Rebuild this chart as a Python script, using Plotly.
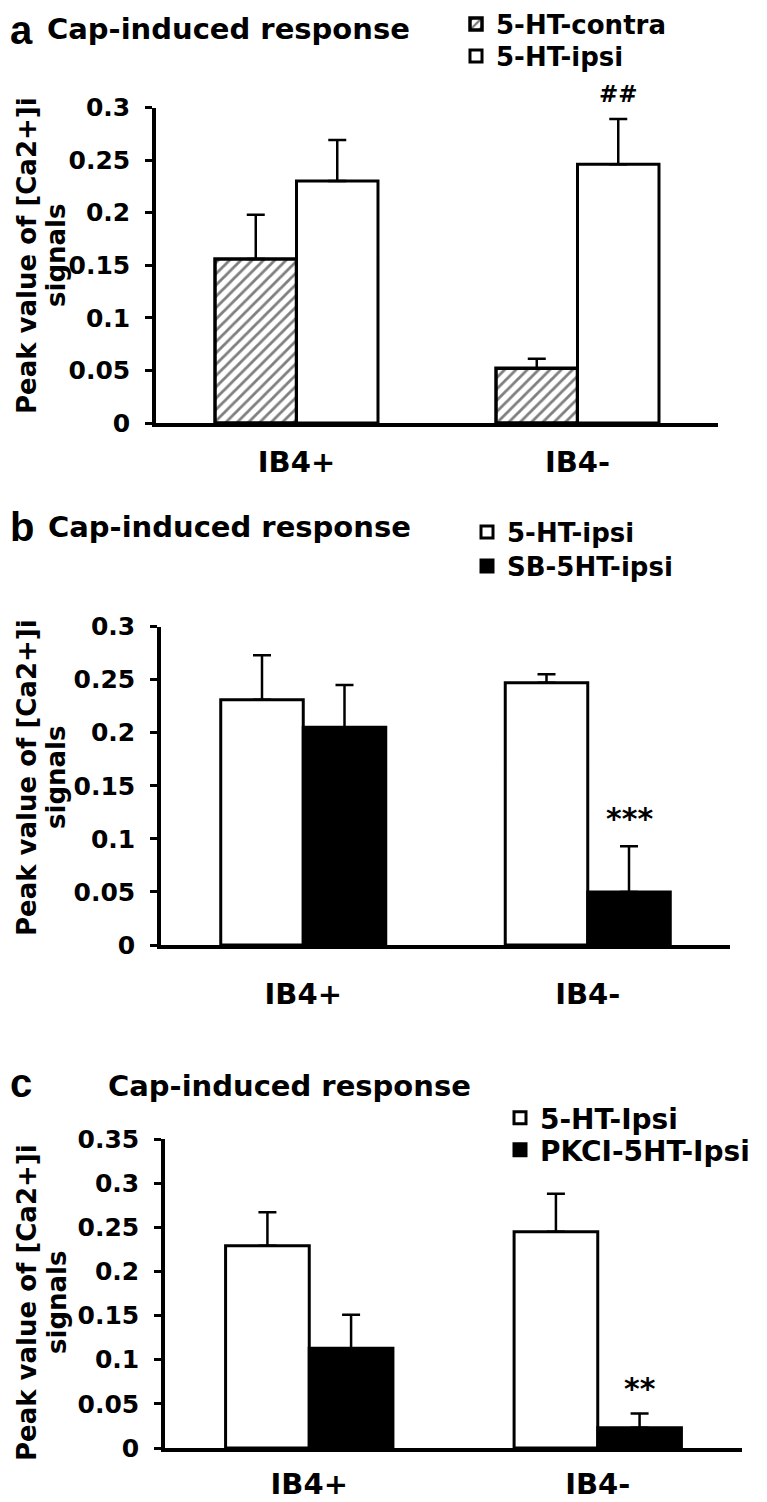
import plotly.graph_objects as go

# The page body adds an 8px margin, so the figure is shifted by OFF and shrunk to fit.
OFF = 8
W, H = 767 - OFF, 1502 - OFF

categories = ["IB4+", "IB4-"]

# Panel a: Cap-induced response, 5-HT-contra vs 5-HT-ipsi
a_contra = [0.156, 0.052]
a_contra_err = [0.042, 0.009]
a_ipsi = [0.230, 0.246]
a_ipsi_err = [0.039, 0.043]

# Panel b: 5-HT-ipsi vs SB-5HT-ipsi
b_ipsi = [0.231, 0.247]
b_ipsi_err = [0.042, 0.008]
b_sb = [0.205, 0.050]
b_sb_err = [0.040, 0.043]

# Panel c: 5-HT-Ipsi vs PKCI-5HT-Ipsi
c_ipsi = [0.229, 0.245]
c_ipsi_err = [0.038, 0.043]
c_pkci = [0.113, 0.023]
c_pkci_err = [0.038, 0.016]

yticks_ab = [0, 0.05, 0.1, 0.15, 0.2, 0.25, 0.3]
yticks_c = [0, 0.05, 0.1, 0.15, 0.2, 0.25, 0.3, 0.35]

FONT = "DejaVu Sans"
BARGAP = 0.42

# plot areas in reference pixels: (left, right, top, bottom)
PA = (156, 718, 107.5, 423)
PB = (161, 730, 626.5, 945)
PC = (165, 742, 1139, 1448)


def px(x):
    return (x - OFF) / W


def py(y):
    return 1 - (y - OFF) / H


def xdom(p):
    return [px(p[0]), px(p[1])]


def ydom(p):
    return [py(p[3]), py(p[2])]


def err(arr):
    return dict(type="data", array=arr, arrayminus=[0] * len(arr), symmetric=False,
                color="black", thickness=2.5, width=9)


fig = go.Figure()

white = dict(color="white", line=dict(color="black", width=3))
black = dict(color="black", line=dict(color="black", width=3))
hatch = dict(color="white", line=dict(color="black", width=3.5),
             pattern=dict(shape="/", fgcolor="black", bgcolor="white", size=8, solidity=0.35))

# Panel a
fig.add_trace(go.Bar(x=categories, y=a_contra, error_y=err(a_contra_err), marker=hatch,
                     name="5-HT-contra", xaxis="x", yaxis="y", legend="legend"))
fig.add_trace(go.Bar(x=categories, y=a_ipsi, error_y=err(a_ipsi_err), marker=white,
                     name="5-HT-ipsi", xaxis="x", yaxis="y", legend="legend2"))
# Panel b
fig.add_trace(go.Bar(x=categories, y=b_ipsi, error_y=err(b_ipsi_err), marker=white,
                     name="5-HT-ipsi", xaxis="x2", yaxis="y2", legend="legend3"))
fig.add_trace(go.Bar(x=categories, y=b_sb, error_y=err(b_sb_err), marker=black,
                     name="SB-5HT-ipsi", xaxis="x2", yaxis="y2", legend="legend4"))
# Panel c
fig.add_trace(go.Bar(x=categories, y=c_ipsi, error_y=err(c_ipsi_err), marker=white,
                     name="5-HT-Ipsi", xaxis="x3", yaxis="y3", legend="legend5"))
fig.add_trace(go.Bar(x=categories, y=c_pkci, error_y=err(c_pkci_err), marker=black,
                     name="PKCI-5HT-Ipsi", xaxis="x3", yaxis="y3", legend="legend6"))


def xaxis(p, anchor, standoff):
    return dict(domain=xdom(p), anchor=anchor, showline=True, linecolor="black", linewidth=3.5,
                ticks="", showgrid=False, zeroline=False,
                tickfont=dict(family=FONT, size=29, color="black", weight="bold"),
                ticklabelstandoff=standoff)


def yaxis(p, anchor, ticks, rng):
    return dict(domain=ydom(p), anchor=anchor, range=rng, tickvals=ticks,
                showline=True, linecolor="black", linewidth=3.5,
                ticks="outside", ticklen=7, tickwidth=3, tickcolor="black",
                showgrid=False, zeroline=False,
                tickfont=dict(family=FONT, size=25, color="black", weight="bold"),
                ticklabelstandoff=10)


def legend(xpx, ypx, size):
    return dict(x=px(xpx - 40), xanchor="left", y=py(ypx), yanchor="middle",
                font=dict(family=FONT, size=size, color="black", weight="bold"),
                bgcolor="rgba(0,0,0,0)", borderwidth=0, itemwidth=30)


annotations = []


def text(s, xpx, ypx, size, family=FONT, xanchor="left", angle=0):
    annotations.append(dict(text=s, x=px(xpx), y=py(ypx), xref="paper", yref="paper",
                            xanchor=xanchor, yanchor="middle", showarrow=False, textangle=angle,
                            font=dict(family=family, size=size, color="black", weight="bold")))


# panel letters and titles
text("a", 8, 30, 40, family="Liberation Sans")
text("Cap-induced response", 45, 29, 29)
text("b", 8, 527, 40, family="Liberation Sans")
text("Cap-induced response", 46, 527, 29)
text("c", 8, 1083, 40, family="Liberation Sans")
text("Cap-induced response", 106, 1086, 29)

# y titles
for (l1x, l2x, cy) in [(27, 56, 256), (27, 56, 778), (27, 57, 1303)]:
    text("Peak value of [Ca2+]i", l1x, cy, 26, xanchor="center", angle=-90)
    text("signals", l2x, cy, 26, xanchor="center", angle=-90)


# significance marks over the second bar of each IB4- group
def mark(s, p, xa, ya, yval, size, yshift):
    cat_w = (p[1] - p[0]) / len(categories)
    off = (1 - BARGAP) * cat_w / 4
    annotations.append(dict(text=s, x="IB4-", y=yval, xref=xa, yref=ya, xshift=off,
                            yshift=yshift, yanchor="bottom", xanchor="center", showarrow=False,
                            font=dict(family=FONT, size=size, color="black", weight="bold")))


mark("##", PA, "x", "y", a_ipsi[1] + a_ipsi_err[1], 23, 10)
mark("***", PB, "x2", "y2", b_sb[1] + b_sb_err[1], 30, 8)
mark("**", PC, "x3", "y3", c_pkci[1] + c_pkci_err[1], 30, 6)

fig.update_layout(
    width=W, height=H, margin=dict(l=0, r=0, t=0, b=0, autoexpand=False),
    paper_bgcolor="white", plot_bgcolor="white",
    barmode="group", bargap=BARGAP, bargroupgap=0,
    showlegend=True,
    xaxis=xaxis(PA, "y", 10), yaxis=yaxis(PA, "x", yticks_ab, [0, 0.3]),
    xaxis2=xaxis(PB, "y2", 20), yaxis2=yaxis(PB, "x2", yticks_ab, [0, 0.3]),
    xaxis3=xaxis(PC, "y3", 7), yaxis3=yaxis(PC, "x3", yticks_c, [0, 0.35]),
    legend=legend(496, 24, 26), legend2=legend(496, 56, 26),
    legend3=legend(507, 532, 26), legend4=legend(507, 566, 26),
    legend5=legend(540, 1118, 28), legend6=legend(540, 1150, 28),
    annotations=annotations,
)

fig.write_html("out.html")
